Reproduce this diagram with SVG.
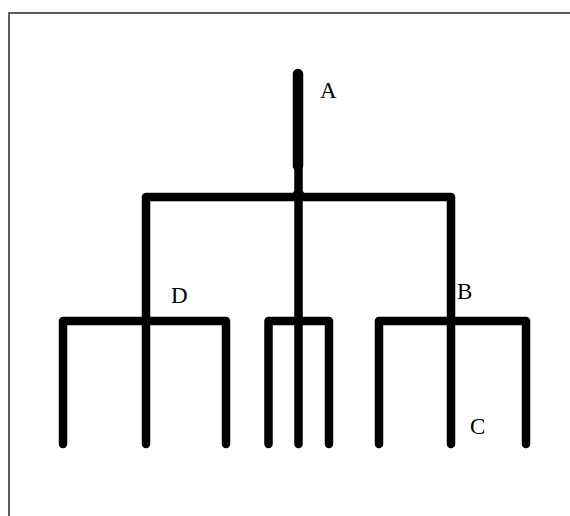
<svg xmlns="http://www.w3.org/2000/svg" width="570" height="516" viewBox="0 0 570 516">
<style>
.ln{fill:none;stroke:#000;stroke-width:8.5;stroke-linecap:round;stroke-linejoin:round}
.lbl{font-family:"Liberation Serif","DejaVu Serif",serif;font-size:23px;fill:#000}
</style>
<rect x="0" y="0" width="570" height="516" fill="#fff"/>
<rect x="9" y="13" width="620" height="620" fill="none" stroke="#333" stroke-width="1.6"/>
<g id="connectors">
<line x1="298" y1="74" x2="298" y2="166" stroke="#000" stroke-width="10.5" stroke-linecap="round"/>
<line class="ln" x1="298.5" y1="166" x2="298.5" y2="444"/>
<circle cx="298.5" cy="196" r="6.5" fill="#000"/>
<polyline class="ln" points="146,444 146,197 451,197 451,444"/>
<polyline class="ln" points="63,444 63,321 226,321 226,444"/>
<polyline class="ln" points="268.5,444 268.5,321 329,321 329,444"/>
<polyline class="ln" points="379,444 379,321 526,321 526,444"/>
</g>
<g id="A"><text class="lbl" x="320" y="98">A</text></g>
<g id="B"><text class="lbl" x="457" y="299">B</text></g>
<g id="C"><text class="lbl" x="470" y="434">C</text></g>
<g id="D"><text class="lbl" x="171" y="303">D</text></g>
</svg>
